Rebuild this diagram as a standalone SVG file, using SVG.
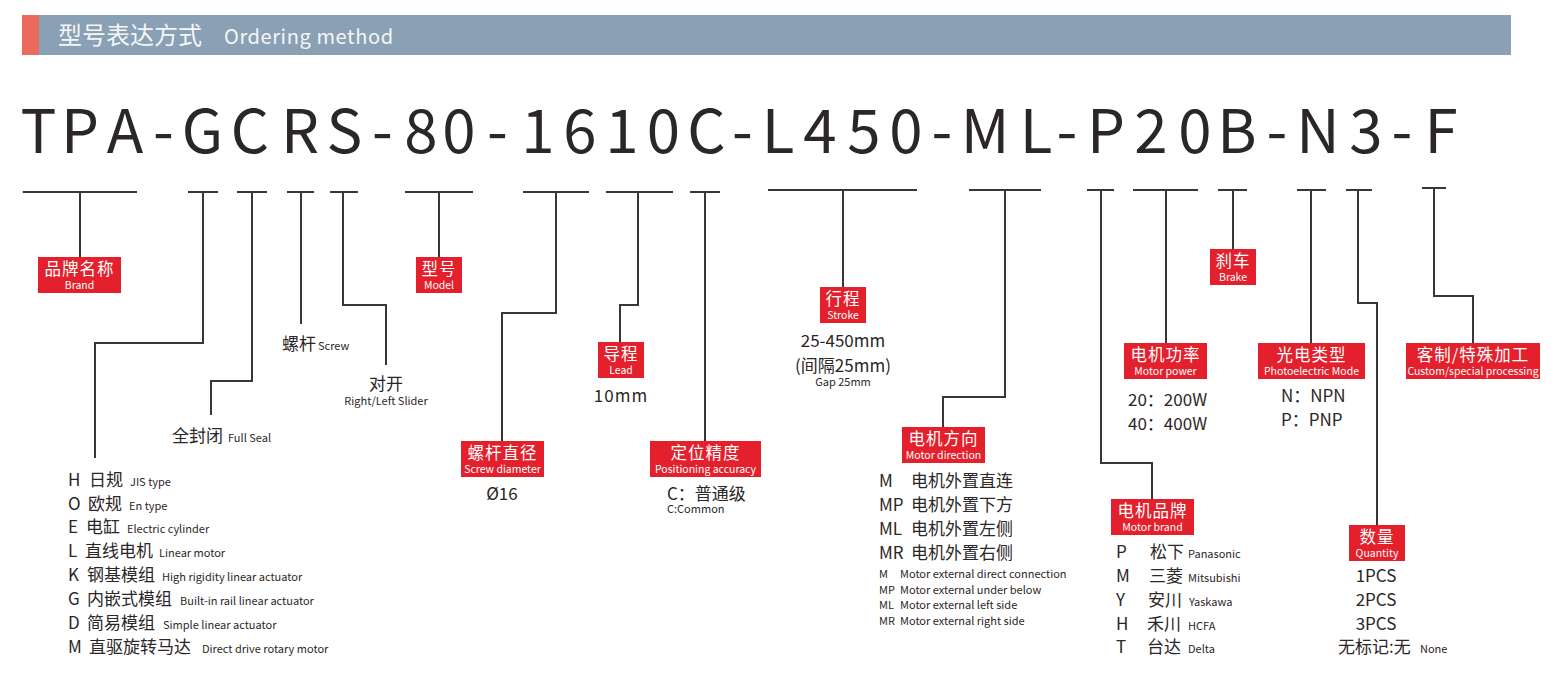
<svg xmlns="http://www.w3.org/2000/svg" width="1562" height="676" viewBox="0 0 1562 676">
<style>
text{font-family:"Noto Sans CJK SC","Noto Sans",sans-serif;}
.ln{stroke:#3a3536;stroke-width:2;fill:none;}
.box{fill:#e3202b;}
.bt{fill:#fff;font-size:16.5px;text-anchor:middle;letter-spacing:1px;}
.be{fill:#fff;font-size:10.5px;text-anchor:middle;}
.t{fill:#2b2627;font-size:17px;}
.tc{fill:#2b2627;font-size:17px;text-anchor:middle;}
.s{fill:#2b2627;font-size:11px;}
.sc{fill:#2b2627;font-size:11px;text-anchor:middle;}
</style>
<rect width="1562" height="676" fill="#fff"/>
<g id="header">
<rect x="22" y="15" width="1489" height="40" fill="#8aa0b4"/>
<rect x="22" y="15" width="17" height="40" fill="#ec6a5c"/>
<text x="58" y="44" fill="#f4f6f8" font-size="24">型号表达方式<tspan x="224" font-size="20" letter-spacing="0.6">Ordering method</tspan></text>
</g>
<g id="model-code">
<text y="153" font-size="60" fill="#2b2627" text-anchor="middle" x="38.5 80 125 163.5 202.5 250 300 344.5 382.5 421 459 497.5 538 580 622 663.5 706.5 742.5 778 820 864 906 942 985 1036 1067 1106 1151 1195 1237 1277 1318 1366 1402 1441">TPA-GCRS-80-1610C-L450-ML-P20B-N3-F</text>
</g>
<g id="connectors">
<path class="ln" d="M22.7 192H137M188 192H218M237 192H267M287 192H314M330 192H358M405 192H473M523 192H589M606 192H673M690 192H720M768 190H917M969 190H1041M1087 190H1114M1133 190H1198M1218 190H1247M1297 190H1326M1346 190H1372M1422 188H1446"/>
<path class="ln" d="M80 192V257M203 192V343H95V458M252 192V381H211V415M301 192V324M343 192V305H386V365M439 192V257M556 192V313H502V441M638 192V305H620V342M705 192V441M843 190V287M1005 190V397H943V427M1101 190V463H1152V499M1166 190V343M1233 190V249M1311 190V343M1358 190V303H1377V525M1434 188V296H1473V343"/>
</g>
<g id="brand">
<rect class="box" x="38" y="257" width="83" height="36"/>
<text class="bt" x="79.5" y="275">品牌名称</text>
<text class="be" x="79.5" y="288.5">Brand</text>
</g>
<g id="type">
<text class="t" y="486"><tspan x="68">H</tspan><tspan x="89">日规</tspan><tspan x="130" font-size="11">JIS type</tspan></text>
<text class="t" y="510"><tspan x="68">O</tspan><tspan x="88">欧规</tspan><tspan x="129" font-size="11">En type</tspan></text>
<text class="t" y="533"><tspan x="68">E</tspan><tspan x="86">电缸</tspan><tspan x="127" font-size="11">Electric cylinder</tspan></text>
<text class="t" y="557"><tspan x="68">L</tspan><tspan x="85">直线电机</tspan><tspan x="159" font-size="11">Linear motor</tspan></text>
<text class="t" y="581"><tspan x="68">K</tspan><tspan x="87">钢基模组</tspan><tspan x="162" font-size="11">High rigidity linear actuator</tspan></text>
<text class="t" y="605"><tspan x="68">G</tspan><tspan x="87">内嵌式模组</tspan><tspan x="180" font-size="11">Built-in rail linear actuator</tspan></text>
<text class="t" y="629"><tspan x="68">D</tspan><tspan x="87">简易模组</tspan><tspan x="163" font-size="11">Simple linear actuator</tspan></text>
<text class="t" y="653"><tspan x="68">M</tspan><tspan x="89">直驱旋转马达</tspan><tspan x="202" font-size="11">Direct drive rotary motor</tspan></text>
</g>
<g id="full-seal">
<text class="t" x="172" y="442">全封闭<tspan x="228" font-size="11">Full Seal</tspan></text>
</g>
<g id="screw">
<text class="t" x="282" y="350">螺杆<tspan x="318" font-size="11">Screw</tspan></text>
</g>
<g id="slider">
<text class="tc" x="386" y="390">对开</text>
<text class="sc" x="386" y="405">Right/Left Slider</text>
</g>
<g id="model">
<rect class="box" x="416" y="257" width="46" height="36"/>
<text class="bt" x="439" y="275">型号</text>
<text class="be" x="439" y="288.5">Model</text>
</g>
<g id="screw-diameter">
<rect class="box" x="461" y="441" width="83" height="36"/>
<text class="bt" x="502.5" y="459">螺杆直径</text>
<text class="be" x="502.5" y="472.5">Screw diameter</text>
<text class="tc" x="502" y="500">Ø16</text>
</g>
<g id="lead">
<rect class="box" x="598" y="342" width="46" height="36"/>
<text class="bt" x="621" y="360">导程</text>
<text class="be" x="621" y="373.5">Lead</text>
<text class="tc" x="621" y="402" letter-spacing="1">10mm</text>
</g>
<g id="positioning">
<rect class="box" x="650" y="441" width="111" height="36"/>
<text class="bt" x="705.5" y="459">定位精度</text>
<text class="be" x="705.5" y="472.5">Positioning accuracy</text>
<text class="t" x="667" y="500">C：普通级</text>
<text class="s" x="667" y="513">C:Common</text>
</g>
<g id="stroke">
<rect class="box" x="820" y="287" width="46" height="36"/>
<text class="bt" x="843" y="305">行程</text>
<text class="be" x="843" y="318.5">Stroke</text>
<text class="tc" x="843" y="347">25-450mm</text>
<text class="tc" x="843" y="372">(间隔25mm)</text>
<text class="sc" x="843" y="386">Gap 25mm</text>
</g>
<g id="motor-direction">
<rect class="box" x="902" y="427" width="83" height="36"/>
<text class="bt" x="943.5" y="445">电机方向</text>
<text class="be" x="943.5" y="458.5">Motor direction</text>
<text class="t" y="487"><tspan x="879">M</tspan><tspan x="911">电机外置直连</tspan></text>
<text class="t" y="511"><tspan x="879">MP</tspan><tspan x="911">电机外置下方</tspan></text>
<text class="t" y="535"><tspan x="879">ML</tspan><tspan x="911">电机外置左侧</tspan></text>
<text class="t" y="559"><tspan x="879">MR</tspan><tspan x="911">电机外置右侧</tspan></text>
<text class="s" y="578"><tspan x="879">M</tspan><tspan x="900">Motor external direct connection</tspan></text>
<text class="s" y="594"><tspan x="879">MP</tspan><tspan x="900">Motor external under below</tspan></text>
<text class="s" y="609"><tspan x="879">ML</tspan><tspan x="900">Motor external left  side</tspan></text>
<text class="s" y="625"><tspan x="879">MR</tspan><tspan x="900">Motor external right side</tspan></text>
</g>
<g id="motor-brand">
<rect class="box" x="1111" y="499" width="83" height="36"/>
<text class="bt" x="1152.5" y="517">电机品牌</text>
<text class="be" x="1152.5" y="530.5">Motor brand</text>
<text class="t" y="558"><tspan x="1116">P</tspan><tspan x="1150">松下</tspan><tspan x="1188" font-size="11">Panasonic</tspan></text>
<text class="t" y="582"><tspan x="1116">M</tspan><tspan x="1149">三菱</tspan><tspan x="1188" font-size="11">Mitsubishi</tspan></text>
<text class="t" y="606"><tspan x="1116">Y</tspan><tspan x="1148">安川</tspan><tspan x="1189" font-size="11">Yaskawa</tspan></text>
<text class="t" y="630"><tspan x="1116">H</tspan><tspan x="1147">禾川</tspan><tspan x="1188" font-size="11">HCFA</tspan></text>
<text class="t" y="653"><tspan x="1116">T</tspan><tspan x="1147">台达</tspan><tspan x="1188" font-size="11">Delta</tspan></text>
</g>
<g id="motor-power">
<rect class="box" x="1124" y="343" width="83" height="36"/>
<text class="bt" x="1165.5" y="361">电机功率</text>
<text class="be" x="1165.5" y="374.5">Motor power</text>
<text class="t" x="1128" y="406">20：200W</text>
<text class="t" x="1128" y="430">40：400W</text>
</g>
<g id="brake">
<rect class="box" x="1210" y="249" width="46" height="36"/>
<text class="bt" x="1233" y="267">刹车</text>
<text class="be" x="1233" y="280.5">Brake</text>
</g>
<g id="photoelectric">
<rect class="box" x="1258" y="343" width="107" height="36"/>
<text class="bt" x="1311.5" y="361">光电类型</text>
<text class="be" x="1311.5" y="374.5">Photoelectric Mode</text>
<text class="t" x="1281" y="402">N：NPN</text>
<text class="t" x="1281" y="426">P：PNP</text>
</g>
<g id="quantity">
<rect class="box" x="1349" y="525" width="56" height="36"/>
<text class="bt" x="1377" y="543">数量</text>
<text class="be" x="1377" y="556.5">Quantity</text>
<text class="tc" x="1376" y="582">1PCS</text>
<text class="tc" x="1376" y="606">2PCS</text>
<text class="tc" x="1376" y="630">3PCS</text>
<text class="t" x="1338" y="653">无标记:无<tspan x="1420" font-size="11">None</tspan></text>
</g>
<g id="custom">
<rect class="box" x="1406" y="343" width="134" height="36"/>
<text class="bt" x="1473" y="361">客制/特殊加工</text>
<text class="be" x="1473" y="374.5">Custom/special processing</text>
</g>
</svg>
